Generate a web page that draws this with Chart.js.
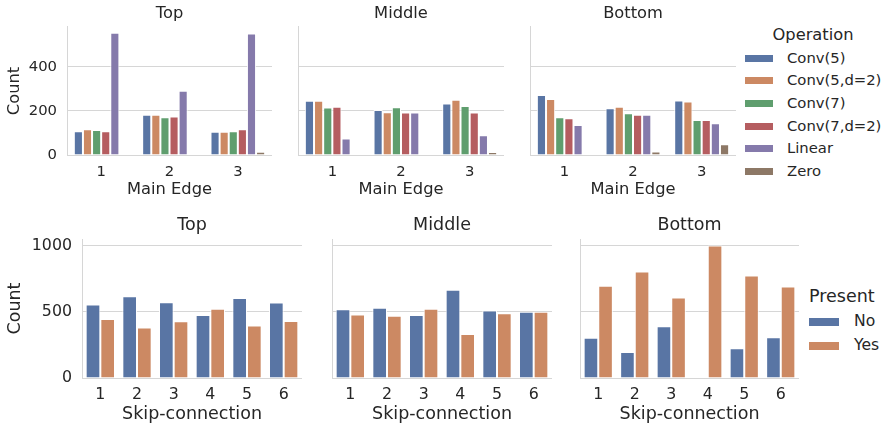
<!DOCTYPE html>
<html>
<head>
<meta charset="utf-8">
<script src="https://cdn.jsdelivr.net/npm/chart.js@4"></script>
<style>
  html, body { margin: 0; padding: 0; background: #ffffff; }
  body { width: 884px; height: 425px; position: relative; overflow: hidden; font-family: "DejaVu Sans", sans-serif; color: #262626; }
  .panel { position: absolute; }
  .legend-title, .legend-item { position: absolute; white-space: nowrap; color: #262626; }
  .swatch { position: absolute; box-sizing: border-box; border: 1px solid #ffffff; }
</style>
</head>
<body>
<script>
// Categories
const mainEdges = ['1', '2', '3'];
const skipConnections = ['1', '2', '3', '4', '5', '6'];
const operations = ['Conv(5)', 'Conv(5,d=2)', 'Conv(7)', 'Conv(7,d=2)', 'Linear', 'Zero'];
const presence = ['No', 'Yes'];

// Operation counts per main edge (one row per operation)
const opTop = [
  [108, 182, 105],
  [117, 182, 105],
  [113, 171, 108],
  [108, 174, 117],
  [554, 291, 550],
  [0, 0, 15]
];
const opMiddle = [
  [246, 204, 233],
  [246, 194, 250],
  [215, 216, 222],
  [218, 193, 192],
  [75, 193, 89],
  [0, 0, 14]
];
const opBottom = [
  [272, 212, 247],
  [254, 219, 242],
  [171, 189, 159],
  [167, 182, 159],
  [136, 182, 144],
  [0, 16, 49]
];

// Skip-connection presence counts
const skipTopNo = [555, 618, 572, 476, 604, 570];
const skipTopYes = [445, 382, 428, 524, 396, 430];
const skipMiddleNo = [520, 530, 476, 667, 510, 500];
const skipMiddleYes = [480, 470, 524, 333, 490, 500];
const skipBottomNo = [304, 196, 391, 0, 225, 308];
const skipBottomYes = [696, 804, 609, 1000, 775, 692];

// Tick labels
const opTicks = [0, 200, 400];
const skipTicks = [0, 500, 1000];

// Colours
const opColors = ['#5975a4', '#cc8963', '#5f9e6e', '#b55d60', '#857aab', '#8d7866'];
const presColors = ['#5975a4', '#cc8963'];
const ink = '#262626';
const rule = '#d6d6d6';
const family = '"DejaVu Sans", sans-serif';

function panel(p) {
  const div = document.createElement('div');
  div.className = 'panel';
  const left = p.plotLeft - p.axisW;
  const width = p.plotRight - left;
  div.style.left = left + 'px';
  div.style.top = p.top + 'px';
  div.style.width = width + 'px';
  div.style.height = p.height + 'px';
  const cv = document.createElement('canvas');
  cv.width = width;
  cv.height = p.height;
  div.appendChild(cv);
  document.body.appendChild(div);

  new Chart(cv, {
    type: 'bar',
    data: {
      labels: p.labels,
      datasets: p.series.map((vals, i) => ({
        label: p.names[i],
        data: vals,
        backgroundColor: p.colors[i],
        borderColor: 'rgba(255,255,255,0.9)',
        borderWidth: 1,
        borderSkipped: 'start',
        categoryPercentage: 0.8,
        barPercentage: 1.0
      }))
    },
    options: {
      responsive: false,
      animation: false,
      layout: { padding: 0 },
      plugins: {
        legend: { display: false },
        tooltip: { enabled: false },
        title: {
          display: true,
          text: p.title,
          fullSize: false,
          color: ink,
          font: { family, size: p.labelSize, weight: 'normal' },
          padding: { top: p.titlePadTop, bottom: p.titlePadBottom }
        }
      },
      scales: {
        x: {
          grid: { display: false, drawTicks: false, tickLength: 0 },
          border: { display: true, color: rule, width: 1 },
          ticks: { color: ink, font: { family, size: p.tickSize }, padding: p.xTickPad },
          title: { display: true, text: p.xTitle, color: ink, font: { family, size: p.labelSize }, padding: { top: 0, bottom: 0 } },
          afterFit: s => { s.height = p.xAxisH; }
        },
        y: {
          min: 0,
          max: p.yMax,
          grid: { color: rule, lineWidth: 1, drawTicks: false, tickLength: 0 },
          border: { display: true, color: rule, width: 1 },
          ticks: { display: p.showY, color: ink, font: { family, size: p.tickSize }, padding: 10, callback: v => String(v) },
          afterBuildTicks: s => { s.ticks = p.ticks.map(v => ({ value: v })); },
          title: { display: p.showY, text: 'Count', color: ink, font: { family, size: p.labelSize }, padding: { top: p.yTitlePad, bottom: 0 } },
          afterFit: s => { s.width = p.axisW; }
        }
      }
    }
  });
}

// Upper row: operation per main edge
const upper = { top: 0, height: 200, xAxisH: 45, labelSize: 16.3, tickSize: 14.8, titlePadTop: 4.2, titlePadBottom: 3.2,
  xTickPad: 8, yTitlePad: 5.2, yMax: 580, ticks: opTicks, labels: mainEdges, names: operations, colors: opColors, xTitle: 'Main Edge' };
panel({ ...upper, title: 'Top', series: opTop, plotLeft: 67, plotRight: 272, axisW: 67, showY: true });
panel({ ...upper, title: 'Middle', series: opMiddle, plotLeft: 298, plotRight: 504, axisW: 4, showY: false });
panel({ ...upper, title: 'Bottom', series: opBottom, plotLeft: 530, plotRight: 736, axisW: 4, showY: false });

// Lower row: skip-connection presence
const lower = { top: 206, height: 219, xAxisH: 47, labelSize: 17.5, tickSize: 15.8, titlePadTop: 9.1, titlePadBottom: 2.9,
  xTickPad: 7.5, yTitlePad: 4.5, yMax: 1050, ticks: skipTicks, labels: skipConnections, names: presence, colors: presColors, xTitle: 'Skip-connection' };
panel({ ...lower, title: 'Top', series: [skipTopNo, skipTopYes], plotLeft: 82, plotRight: 302, axisW: 82, showY: true });
panel({ ...lower, title: 'Middle', series: [skipMiddleNo, skipMiddleYes], plotLeft: 332, plotRight: 552, axisW: 4, showY: false });
panel({ ...lower, title: 'Bottom', series: [skipBottomNo, skipBottomYes], plotLeft: 580, plotRight: 799, axisW: 4, showY: false });

// Legends
function legend(l) {
  const t = document.createElement('div');
  t.className = 'legend-title';
  t.textContent = l.title;
  t.style.fontSize = l.titleSize + 'px';
  t.style.lineHeight = '1';
  document.body.appendChild(t);
  t.style.left = (l.titleCenter - t.offsetWidth / 2) + 'px';
  t.style.top = (l.titleY - l.titleSize * 0.5) + 'px';
  l.names.forEach((name, i) => {
    const cy = l.rowY[i];
    const sw = document.createElement('div');
    sw.className = 'swatch';
    sw.style.left = l.swLeft + 'px';
    sw.style.width = l.swW + 'px';
    sw.style.height = l.swH + 'px';
    sw.style.top = (cy - l.swH / 2) + 'px';
    sw.style.background = l.colors[i];
    document.body.appendChild(sw);
    const tx = document.createElement('div');
    tx.className = 'legend-item';
    tx.textContent = name;
    tx.style.fontSize = l.textSize + 'px';
    tx.style.lineHeight = '1';
    tx.style.left = l.textLeft + 'px';
    tx.style.top = (cy - l.textSize * 0.5) + 'px';
    document.body.appendChild(tx);
  });
}

legend({ title: 'Operation', titleSize: 16.3, titleCenter: 813, titleY: 35, names: operations, colors: opColors,
  rowY: [58, 80.5, 103, 126, 148.5, 171], swLeft: 744, swW: 30, swH: 9, textLeft: 787, textSize: 14.8 });
legend({ title: 'Present', titleSize: 17.5, titleCenter: 842, titleY: 297, names: presence, colors: presColors,
  rowY: [321.7, 345.7], swLeft: 808, swW: 32, swH: 10, textLeft: 854, textSize: 15.6 });
</script>
</body>
</html>
